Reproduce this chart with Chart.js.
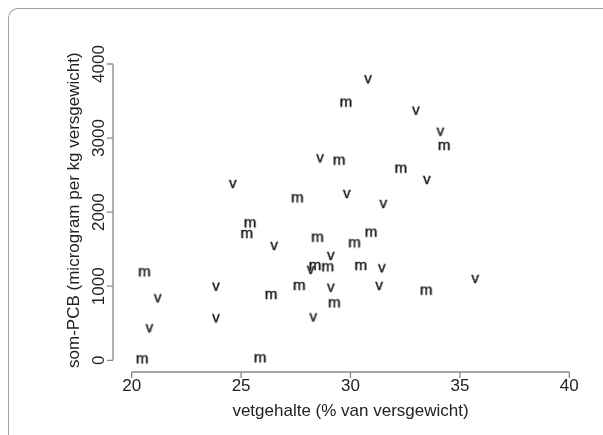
<!DOCTYPE html>
<html>
<head>
<meta charset="utf-8">
<script src="https://cdn.jsdelivr.net/npm/chart.js@4.4.0/dist/chart.umd.min.js"></script>
<style>
html,body{margin:0;padding:0;background:#fff;overflow:hidden}
#wrap{position:relative;width:603px;height:435px}
#frame{position:absolute;left:8px;top:8px;width:700px;height:600px;border-top:1.5px solid #a4a38d;border-left:1.5px solid #a4a38d;border-top-left-radius:10px}
canvas{position:absolute;left:0;top:0}
</style>
</head>
<body>
<div id="wrap"><div id="frame"></div><canvas id="c" width="603" height="435"></canvas></div>
<script>
// tick labels
const xTicks = [20, 25, 30, 35, 40];
const yTicks = [0, 1000, 2000, 3000, 4000];
const xTitle = 'vetgehalte (% van versgewicht)';
const yTitle = 'som-PCB (microgram per kg versgewicht)';
// "m" samples
const mX = [29.79, 29.48, 34.28, 32.30, 27.57, 25.41, 25.26, 28.49, 30.94, 30.18, 28.38, 28.96, 30.47, 20.58, 27.66, 26.37, 33.46, 29.26, 20.48, 25.87];
const mY = [3478, 2695, 2893, 2587, 2187, 1850, 1705, 1655, 1723, 1580, 1273, 1256, 1273, 1188, 1003, 882, 940, 770, 13, 27];
// "v" samples
const vX = [30.80, 32.99, 34.11, 28.61, 33.49, 24.62, 29.83, 31.50, 26.51, 29.10, 28.18, 31.43, 23.85, 29.10, 31.31, 35.70, 21.19, 23.85, 28.30, 20.81];
const vY = [3794, 3370, 3086, 2727, 2434, 2380, 2245, 2110, 1543, 1408, 1219, 1242, 994, 980, 1003, 1098, 837, 567, 580, 432];

const ink = '#222';
const font = '"Liberation Sans", Arial, Helvetica, sans-serif';

function glyph(ch){
  const c = document.createElement('canvas'); c.width = 24; c.height = 24;
  const g = c.getContext('2d');
  g.fillStyle = '#151515'; g.strokeStyle = '#151515'; g.lineWidth = 0.4;
  g.font = '15px ' + font; g.textAlign = 'center'; g.textBaseline = 'alphabetic';
  g.fillText(ch, 12, 12 + 3.9); g.strokeText(ch, 12, 12 + 3.9);
  return c;
}

const rAxes = {
  id: 'rAxes',
  afterDraw(chart){
    const {ctx, chartArea, scales:{x, y}} = chart;
    const ax = chartArea.left, ay = chartArea.bottom;
    ctx.save();
    ctx.strokeStyle = '#888'; ctx.lineWidth = 1.3;
    ctx.beginPath();
    ctx.moveTo(ax, y.getPixelForValue(yTicks[0])); ctx.lineTo(ax, y.getPixelForValue(yTicks[yTicks.length-1]));
    yTicks.forEach(t=>{ const p = y.getPixelForValue(t); ctx.moveTo(ax, p); ctx.lineTo(ax-6, p); });
    ctx.moveTo(x.getPixelForValue(xTicks[0]), ay); ctx.lineTo(x.getPixelForValue(xTicks[xTicks.length-1]), ay);
    xTicks.forEach(t=>{ const p = x.getPixelForValue(t); ctx.moveTo(p, ay); ctx.lineTo(p, ay+6); });
    ctx.stroke();
    ctx.fillStyle = ink; ctx.font = '17px ' + font; ctx.textAlign = 'center'; ctx.textBaseline = 'middle';
    xTicks.forEach(t=> ctx.fillText(String(t), x.getPixelForValue(t), ay + 14.5));
    yTicks.forEach(t=>{ ctx.save(); ctx.translate(ax - 14, y.getPixelForValue(t)); ctx.rotate(-Math.PI/2); ctx.fillText(String(t), 0, 0); ctx.restore(); });
    ctx.fillText(xTitle, x.getPixelForValue(30), ay + 39.5);
    ctx.save(); ctx.translate(ax - 39, y.getPixelForValue(2000) - 2); ctx.rotate(-Math.PI/2); ctx.fillText(yTitle, 0, 0); ctx.restore();
    ctx.restore();
  }
};

new Chart(document.getElementById('c'), {
  type: 'scatter',
  data: { datasets: [
    { label: 'm', data: mX.map((v,i)=>({x:v, y:mY[i]})), pointStyle: glyph('m'), pointRadius: 8 },
    { label: 'v', data: vX.map((v,i)=>({x:v, y:vY[i]})), pointStyle: glyph('v'), pointRadius: 8 }
  ]},
  options: {
    responsive: false, devicePixelRatio: 1, animation: false,
    layout: { padding: { left: 113, right: 23, top: 50, bottom: 63 } },
    scales: {
      x: { type: 'linear', display: false, min: 19.145, max: 40.489 },
      y: { type: 'linear', display: false, min: -158, max: 4189 }
    },
    plugins: { legend: { display: false }, tooltip: { enabled: false } }
  },
  plugins: [rAxes]
});
</script>
</body>
</html>
